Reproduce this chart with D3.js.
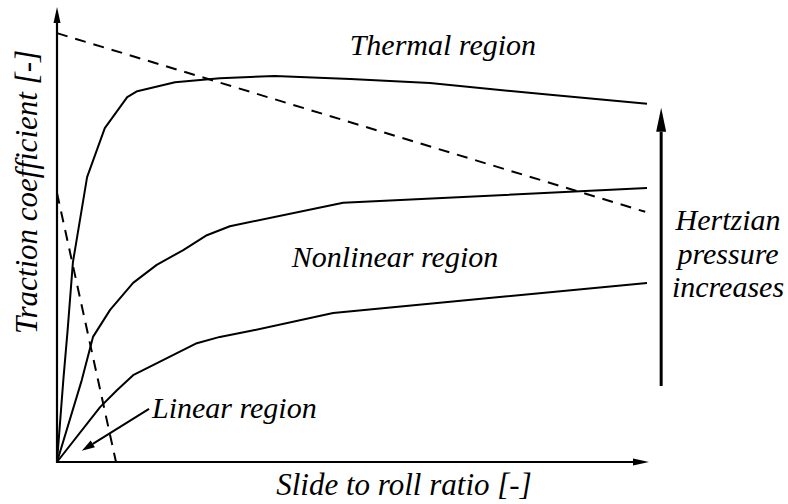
<!DOCTYPE html>
<html>
<head>
<meta charset="utf-8">
<script src="https://cdn.jsdelivr.net/npm/d3@7"></script>
</head>
<body style="margin:0">
<script>
// traction curves, x = slide to roll ratio, y = traction coefficient (arbitrary 0-100 units)
const thermalCurve = [
  [0, 0], [1.07, 18.2], [1.8, 29.3], [2.7, 44.4], [5.1, 63.3], [8.1, 74.2],
  [11.9, 81.1], [13.6, 82.4], [20.0, 84.4], [27.6, 85.3], [36.9, 85.8],
  [49.7, 85.1], [63.2, 84.2], [83.6, 81.6], [100, 79.6]
];
const middleCurve = [
  [0, 0], [4.2, 18.2], [6.1, 27.8], [9.0, 33.8], [12.9, 39.8], [16.9, 43.8],
  [21.4, 47.1], [25.4, 50.4], [29.3, 52.4], [48.5, 57.6], [100, 60.9]
];
const lowCurve = [
  [0, 0], [7.3, 12.2], [10.2, 16.0], [12.9, 19.3], [23.7, 26.4], [27.6, 27.8],
  [32.7, 29.1], [46.8, 33.1], [100, 39.8]
];

// dashed boundary lines
const thermalBoundary = [[0, 95.3], [99.7, 55.6]];
const linearBoundary = [[0, 59.8], [10, 0]];

// arrows
const pressureArrow = [[102.4, 16.9], [102.4, 78.7]];
const linearPointer = [[15.6, 11.8], [4.2, 2.5]];

// region labels
const regionLabels = [
  { text: "Thermal region", x: 65.4, y: 90.4, anchor: "middle" },
  { text: "Nonlinear region", x: 57.3, y: 43.3, anchor: "middle" },
  { text: "Linear region", x: 16.1, y: 9.8, anchor: "start" }
];
const pressureLines = ["Hertzian", "pressure", "increases"];
const xTitle = "Slide to roll ratio [-]";
const yTitle = "Traction coefficient [-]";

const svg = d3.select("body").append("svg")
  .attr("width", 788)
  .attr("height", 504);

const x = d3.scaleLinear().domain([0, 100]).range([57, 647]);
const y = d3.scaleLinear().domain([0, 100]).range([462, 12]);

// labels first
svg.selectAll(".region-label")
  .data(regionLabels)
  .enter()
  .append("text")
  .attr("class", "region-label")
  .attr("x", d => x(d.x))
  .attr("y", d => y(d.y))
  .attr("text-anchor", d => d.anchor)
  .attr("font-family", "Liberation Serif")
  .attr("font-style", "italic")
  .attr("font-size", 30)
  .text(d => d.text);

svg.selectAll(".pressure-label")
  .data(pressureLines)
  .enter()
  .append("text")
  .attr("class", "pressure-label")
  .attr("x", 728)
  .attr("y", (d, i) => 230 + i * 33.5)
  .attr("text-anchor", "middle")
  .attr("font-family", "Liberation Serif")
  .attr("font-style", "italic")
  .attr("font-size", 30)
  .text(d => d);

svg.append("text")
  .attr("x", 404)
  .attr("y", 495)
  .attr("text-anchor", "middle")
  .attr("font-family", "Liberation Serif")
  .attr("font-style", "italic")
  .attr("font-size", 31)
  .text(xTitle);

svg.append("text")
  .attr("transform", "translate(37,192) rotate(-90)")
  .attr("text-anchor", "middle")
  .attr("font-family", "Liberation Serif")
  .attr("font-style", "italic")
  .attr("font-size", 31)
  .text(yTitle);

const line = d3.line().x(d => x(d[0])).y(d => y(d[1]));

// arrow: shaft plus filled triangular head, from pixel end points
function arrow(p0, p1, len, half, width) {
  const dx = p1[0] - p0[0], dy = p1[1] - p0[1];
  const n = Math.hypot(dx, dy), ux = dx / n, uy = dy / n;
  const bx = p1[0] - ux * len, by = p1[1] - uy * len;
  svg.append("path")
    .attr("d", `M${p0[0]},${p0[1]}L${bx},${by}`)
    .attr("stroke", "#000")
    .attr("stroke-width", width);
  svg.append("path")
    .attr("d", `M${p1[0]},${p1[1]}L${bx - uy * half},${by + ux * half}L${bx + uy * half},${by - ux * half}Z`)
    .attr("fill", "#000");
}

// axes
arrow([x(0), y(0) + 1], [x(0), 7], 16, 3.5, 2.2);
arrow([x(0) - 1, y(0)], [649, y(0)], 16, 3.5, 2.2);

// solid curves
svg.selectAll(".curve")
  .data([thermalCurve, middleCurve, lowCurve])
  .enter()
  .append("path")
  .attr("class", "curve")
  .attr("d", line)
  .attr("fill", "none")
  .attr("stroke", "#000")
  .attr("stroke-width", 2)
  .attr("stroke-linejoin", "round");

// dashed boundaries
svg.selectAll(".boundary")
  .data([thermalBoundary, linearBoundary])
  .enter()
  .append("path")
  .attr("class", "boundary")
  .attr("d", line)
  .attr("fill", "none")
  .attr("stroke", "#000")
  .attr("stroke-width", 2)
  .attr("stroke-dasharray", "11,8");

// pressure arrow and linear region pointer
arrow([x(pressureArrow[0][0]), y(pressureArrow[0][1])], [x(pressureArrow[1][0]), y(pressureArrow[1][1])], 24, 5, 3);
arrow([x(linearPointer[0][0]), y(linearPointer[0][1])], [x(linearPointer[1][0]), y(linearPointer[1][1])], 13, 4, 2);
</script>
</body>
</html>
